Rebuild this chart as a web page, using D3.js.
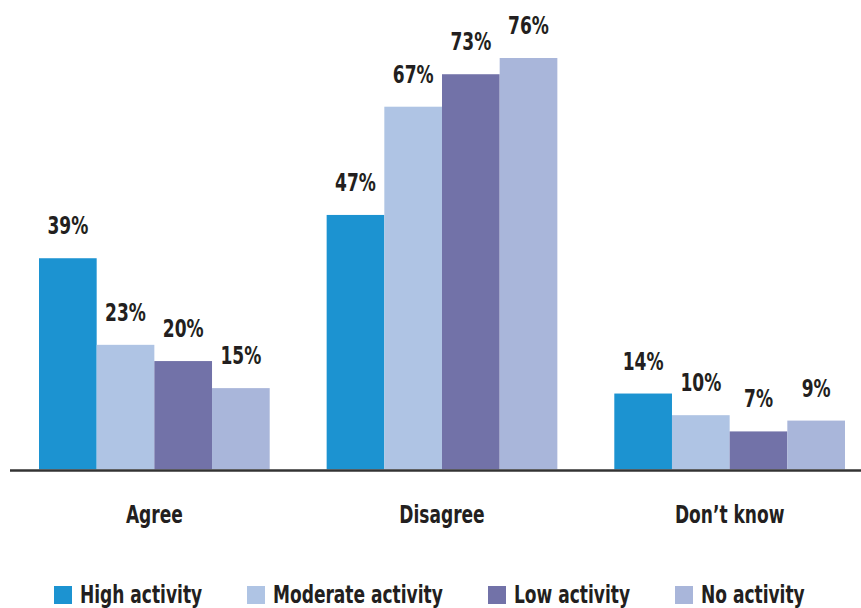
<!DOCTYPE html>
<html>
<head>
<meta charset="utf-8">
<script src="https://cdn.jsdelivr.net/npm/d3@7"></script>
<style>
  html, body { margin: 0; padding: 0; background: #fff; }
  svg { display: block; }
  text { font-family: "DejaVu Sans Condensed", "DejaVu Sans", sans-serif; font-weight: bold; fill: #231f20; }
</style>
</head>
<body>
<svg id="chart" width="861" height="608"></svg>
<script>
const categories = ["Agree", "Disagree", "Don\u2019t know"];
const series = ["High activity", "Moderate activity", "Low activity", "No activity"];
const highActivity = [39, 47, 14];
const moderateActivity = [23, 67, 10];
const lowActivity = [20, 73, 7];
const noActivity = [15, 76, 9];
const colors = ["#1c93d1", "#afc4e4", "#7272a8", "#a9b6da"];

const values = [highActivity, moderateActivity, lowActivity, noActivity];
const rows = categories.map((c, i) => ({
  category: c,
  items: series.map((s, j) => ({ series: s, value: values[j][i] }))
}));

const SX = 0.79; // horizontal condensing to mimic a condensed face
const svg = d3.select("#chart");
const baseY = 469.3;

const x0 = d3.scaleBand().domain(categories).range([39, 845]).paddingInner(0.198).paddingOuter(0);
const x1 = d3.scaleBand().domain(series).range([0, x0.bandwidth()]).padding(0);
const y = d3.scaleLinear().domain([0, 76]).range([baseY, 58]);
const color = d3.scaleOrdinal().domain(series).range(colors);

const groups = svg.append("g").selectAll("g").data(rows).join("g")
  .attr("transform", d => `translate(${x0(d.category)},0)`);

groups.selectAll("rect").data(d => d.items).join("rect")
  .attr("x", d => x1(d.series))
  .attr("y", d => y(d.value))
  .attr("width", x1.bandwidth())
  .attr("height", d => baseY - y(d.value))
  .attr("fill", d => color(d.series));

groups.selectAll("text.val").data(d => d.items).join("text")
  .attr("class", "val")
  .attr("transform", d => `translate(${x1(d.series) + x1.bandwidth() / 2},${y(d.value) - 24}) scale(${SX},1)`)
  .attr("text-anchor", "middle")
  .attr("font-size", 24)
  .text(d => d.value + "%");

// baseline axis
svg.append("line")
  .attr("x1", 10).attr("x2", 861)
  .attr("y1", baseY + 1.2).attr("y2", baseY + 1.2)
  .attr("stroke", "#333").attr("stroke-width", 2.4);

const xAxis = d3.axisBottom(x0).tickSize(0).tickPadding(0);
const ax = svg.append("g").attr("transform", `translate(0,${baseY})`).call(xAxis);
ax.select(".domain").remove();
ax.attr("font-family", null).attr("font-size", null);
ax.selectAll("text")
  .attr("dy", 0)
  .attr("y", 0)
  .attr("transform", `translate(0,54) scale(${SX},1)`)
  .attr("font-size", 24)
  .attr("fill", "#231f20");

// legend
const legendX = [54, 247, 488, 675];
const legend = svg.append("g").selectAll("g").data(series).join("g")
  .attr("transform", (d, i) => `translate(${legendX[i]},586)`);
legend.append("rect").attr("width", 18).attr("height", 18).attr("fill", d => color(d));
legend.append("text")
  .attr("transform", `translate(26,17) scale(${SX},1)`)
  .attr("font-size", 24).text(d => d);
</script>
</body>
</html>
